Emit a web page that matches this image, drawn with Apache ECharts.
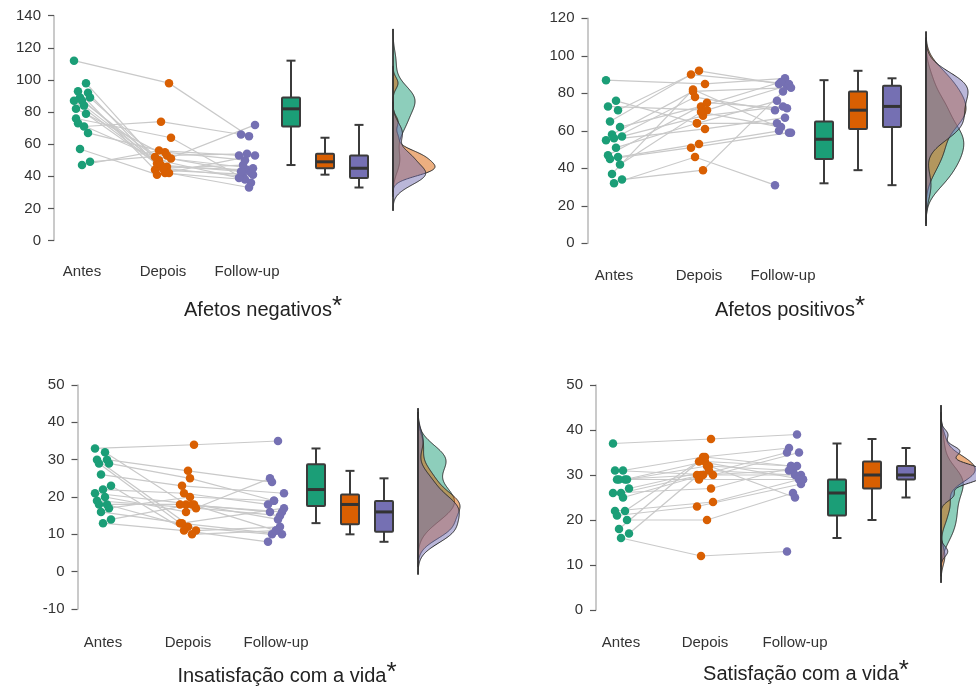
<!DOCTYPE html>
<html><head><meta charset="utf-8">
<script src="https://cdn.jsdelivr.net/npm/echarts@6/dist/echarts.min.js"></script>
<style>html,body{margin:0;padding:0;background:#fff}#c{width:976px;height:686px}</style>
</head><body><div id="c"></div>
<script>
const categories = ['Antes', 'Depois', 'Follow-up'];
const panelTitles = ['Afetos negativos', 'Afetos positivos', 'Insatisfação com a vida', 'Satisfação com a vida'];

// Panel 1: Afetos negativos (one entry per participant)
const negAntes  = [112, 71, 76, 98, 93, 92, 89, 89, 87, 87, 84, 82, 79, 73, 67, 57, 49, 47];
const negDepois = [98, 74, 64, 45, 44, 42, 48, 46, 50, 42, 47, 51, 45, 52, 55, 41, 53, 56];
const negFollow = [65, 66, 36, 40, 41, 38, 72, 44, 39, 33, 43, 42, 47, 45, 50, 53, 54, 53];
const negBox = [[47, 71, 82, 89, 112], [41, 45, 49, 54, 64], [33, 39, 45, 53, 72]]; // min,Q1,med,Q3,max

// Panel 2: Afetos positivos
const posAntes  = [87, 76, 73, 71, 65, 62, 58, 57, 56, 55, 51, 47, 46, 45, 42, 37, 34, 32];
const posDepois = [85, 64, 71, 92, 90, 73, 81, 68, 78, 61, 64, 75, 53, 51, 70, 82, 39, 46];
const posFollow = [88, 76, 84, 85, 85, 86, 83, 73, 71, 67, 64, 72, 60, 59, 62, 59, 81, 31];
const posBox = [[32, 45, 55.5, 65, 87], [39, 61, 71, 81, 92], [31, 62, 73, 84, 88]];

// Panel 3: Insatisfação com a vida
const insAntes  = [33, 32, 30, 30, 29, 29, 26, 23, 22, 21, 20, 19, 18, 18, 17, 16, 14, 13];
const insDepois = [34, 18, 11, 27, 13, 25, 23, 10, 21, 18, 16, 17, 12, 18, 20, 13, 18, 11];
const insFollow = [35, 16, 12, 24, 10, 19, 21, 11, 18, 14, 25, 15, 10, 16, 19, 17, 11, 8];
const insBox = [[13, 17.6, 22, 28.8, 33], [10, 12.7, 18, 20.7, 27], [8, 10.7, 16, 18.9, 25]];

// Panel 4: Satisfação com a vida
const satAntes  = [37, 31, 31, 29, 29, 29, 29, 27, 26, 26, 25, 22, 22, 21, 20, 18, 17, 16];
const satDepois = [38, 34, 30, 33, 30, 32, 29, 31, 30, 27, 30, 24, 34, 23, 20, 33, 32, 12];
const satFollow = [39, 36, 35, 32, 30, 31, 29, 30, 35, 32, 31, 29, 32, 28, 26, 29, 25, 13];
const satBox = [[16, 21, 26, 29, 37], [20, 27, 30, 33, 38], [25, 29, 30, 32, 36]];

// y-axis ticks
const yMins = [0, 0, -10, 0];
const yMaxs = [140, 120, 50, 50];
const yIntervals = [20, 20, 10, 10];

// ---------- layout (pixels) ----------
const layouts = [
  {left: 54, top: 15.7, bottom: 240.5, width: 440, cats: [82, 163, 247], boxes: [291, 325, 359], dens: 393, title: [263, 307], labelMargin: 24},
  {left: 587.5, top: 18.3, bottom: 243.3, width: 388.5, cats: [614, 699, 783], boxes: [824, 858, 892], dens: 926, title: [790, 307], labelMargin: 25},
  {left: 77.5, top: 385, bottom: 609, width: 440, cats: [103, 188, 276], boxes: [316, 350, 384], dens: 418, title: [287, 673], labelMargin: 26},
  {left: 596, top: 385, bottom: 610, width: 380, cats: [621, 705, 795], boxes: [837, 872, 906], dens: 941, title: [806, 671], labelMargin: 25}
];
const FONT = '"Liberation Sans", Arial, sans-serif';
const colors = ['#1B9E77', '#D95F02', '#7570B3'];
const fills = ['rgba(27,158,119,0.5)', 'rgba(217,95,2,0.5)', 'rgba(117,112,179,0.5)'];
const DENS_W = 42;

const panels = [
  {title: panelTitles[0], groups: [negAntes, negDepois, negFollow], box: negBox},
  {title: panelTitles[1], groups: [posAntes, posDepois, posFollow], box: posBox},
  {title: panelTitles[2], groups: [insAntes, insDepois, insFollow], box: insBox},
  {title: panelTitles[3], groups: [satAntes, satDepois, satFollow], box: satBox}
];

function jit(k, c) { return (((k * 5 + c * 7) % 9) - 4) * 2; }
function quantile(arr, p) {
  const s = [...arr].sort((a, b) => a - b); const h = (s.length - 1) * p; const lo = Math.floor(h);
  return s[lo] + (h - lo) * (s[Math.min(lo + 1, s.length - 1)] - s[lo]);
}
function sdev(arr) {
  const m = arr.reduce((a, b) => a + b, 0) / arr.length;
  return Math.sqrt(arr.reduce((a, b) => a + (b - m) * (b - m), 0) / (arr.length - 1));
}
function kde(arr) {
  const iqr = quantile(arr, 0.75) - quantile(arr, 0.25);
  let lo = Math.min(sdev(arr), iqr / 1.34); if (!lo) lo = sdev(arr) || 1;
  const bw = 0.9 * lo * Math.pow(arr.length, -0.2);
  const a = Math.min(...arr) - 3 * bw, b = Math.max(...arr) + 3 * bw;
  const out = [];
  for (let i = 0; i <= 256; i++) {
    const y = a + (b - a) * i / 256; let d = 0;
    for (const v of arr) { const z = (y - v) / bw; d += Math.exp(-0.5 * z * z); }
    out.push([y, d / (arr.length * bw * Math.sqrt(2 * Math.PI))]);
  }
  return out;
}

const grid = [], xAxis = [], yAxis = [], series = [], graphic = [];
panels.forEach((p, i) => {
  const L = layouts[i];
  const catOff = L.cats.map(c => c - L.left);
  const boxOff = L.boxes.map(b => b - L.left);
  const base = L.dens - L.left;
  grid.push({left: L.left, top: L.top, width: L.width, height: L.bottom - L.top, containLabel: false, outerBoundsMode: 'none'});
  xAxis.push({
    gridIndex: i, type: 'value', min: 0, max: L.width,
    axisLine: {show: false, onZero: false}, axisTick: {show: false}, splitLine: {show: false},
    axisLabel: {
      customValues: catOff,
      formatter: (v) => { let b = 0; catOff.forEach((c, k) => { if (Math.abs(c - v) < Math.abs(catOff[b] - v)) b = k; }); return categories[b]; },
      margin: L.labelMargin, fontSize: 15, color: '#333', fontFamily: FONT
    }
  });
  yAxis.push({
    gridIndex: i, type: 'value', min: yMins[i], max: yMaxs[i], interval: yIntervals[i],
    axisLine: {show: true, onZero: false, lineStyle: {color: '#b8b8b8', width: 1.5}},
    axisTick: {show: true, length: 6, lineStyle: {color: '#555', width: 1.2}},
    axisLabel: {fontSize: 15, color: '#333', margin: 13, fontFamily: FONT},
    splitLine: {show: false}
  });
  // connecting lines
  series.push({
    type: 'custom', xAxisIndex: i, yAxisIndex: i, silent: true, z: 1,
    data: p.groups[0].map((v) => [catOff[0], v]),
    renderItem: (params, api) => {
      const k = params.dataIndex;
      const pts = [0, 1, 2].map(c => api.coord([catOff[c] + jit(k, c), p.groups[c][k]]));
      return {type: 'polyline', shape: {points: pts}, style: {stroke: '#c9c9c9', lineWidth: 1.2, fill: 'none'}};
    }
  });
  // dots
  p.groups.forEach((g, c) => {
    series.push({
      type: 'scatter', xAxisIndex: i, yAxisIndex: i, silent: true, z: 3,
      symbolSize: 8.5, itemStyle: {color: colors[c], opacity: 1},
      data: g.map((v, k) => [catOff[c] + jit(k, c), v])
    });
  });
  // boxplots
  series.push({
    type: 'custom', xAxisIndex: i, yAxisIndex: i, silent: true, z: 3,
    data: p.box.map((b, c) => [boxOff[c], b[2]]),
    renderItem: (params, api) => {
      const c = params.dataIndex, b = p.box[c], x = boxOff[c];
      const top = api.coord([x, b[4]]), bot = api.coord([x, b[0]]), q3 = api.coord([x, b[3]]), q1 = api.coord([x, b[1]]), med = api.coord([x, b[2]]);
      const X = top[0], hw = 9, cw = 4.5, stroke = '#3b3b3b';
      return {type: 'group', children: [
        {type: 'line', shape: {x1: X, y1: top[1], x2: X, y2: bot[1]}, style: {stroke, lineWidth: 2}},
        {type: 'line', shape: {x1: X - cw, y1: top[1], x2: X + cw, y2: top[1]}, style: {stroke, lineWidth: 2}},
        {type: 'line', shape: {x1: X - cw, y1: bot[1], x2: X + cw, y2: bot[1]}, style: {stroke, lineWidth: 2}},
        {type: 'rect', shape: {x: X - hw, y: q3[1], width: 2 * hw, height: q1[1] - q3[1], r: 1}, style: {fill: colors[c], stroke, lineWidth: 2}},
        {type: 'line', shape: {x1: X - hw, y1: med[1], x2: X + hw, y2: med[1]}, style: {stroke: '#333', lineWidth: 3}}
      ]};
    }
  });
  // densities
  const dens = p.groups.map(g => kde(g));
  const maxD = Math.max(...dens.map(d => Math.max(...d.map(q => q[1]))));
  const sc = DENS_W / maxD;
  const lo = Math.min(...dens.map(d => d[0][0])), hi = Math.max(...dens.map(d => d[d.length - 1][0]));
  series.push({
    type: 'custom', xAxisIndex: i, yAxisIndex: i, silent: true, z: 2,
    data: [0, 1, 2, 3].map(() => [base, lo]),
    renderItem: (params, api) => {
      const c = params.dataIndex;
      if (c === 3) {
        const a = api.coord([base, lo]), b = api.coord([base, hi]);
        return {type: 'line', shape: {x1: a[0], y1: a[1], x2: b[0], y2: b[1]}, style: {stroke: '#333', lineWidth: 1.5}};
      }
      const d = dens[c];
      const pts = d.map(q => api.coord([base + q[1] * sc, q[0]]));
      pts.push(api.coord([base, d[d.length - 1][0]]));
      pts.push(api.coord([base, d[0][0]]));
      return {type: 'polygon', shape: {points: pts}, style: {fill: fills[c], stroke: '#2a2a2a', lineWidth: 1}};
    }
  });
  // title
  graphic.push({
    type: 'text', x: L.title[0], y: L.title[1], silent: true,
    style: {
      text: '{t|' + p.title + '}{s|*}', align: 'center', verticalAlign: 'middle',
      rich: {
        t: {fontSize: 20, fontFamily: FONT, fill: '#222', lineHeight: 26, verticalAlign: 'bottom'},
        s: {fontSize: 26, fontFamily: FONT, fill: '#222', lineHeight: 18, verticalAlign: 'top'}
      }
    }
  });
});

const chart = echarts.init(document.getElementById('c'), null, {renderer: 'canvas'});
chart.setOption({animation: false, backgroundColor: '#fff', grid, xAxis, yAxis, series, graphic});
</script>
</body></html>
